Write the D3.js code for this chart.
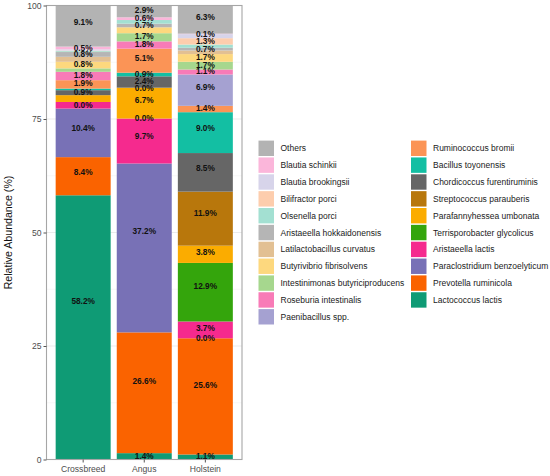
<!DOCTYPE html>
<html>
<head>
<meta charset="utf-8">
<script src="https://cdn.jsdelivr.net/npm/d3@7"></script>
<style>
  body { margin: 0; background: #fff; }
  svg { font-family: "Liberation Sans", Arial, sans-serif; }
</style>
</head>
<body>
<svg id="chart" width="550" height="476"></svg>
<script>
// breeds on the x axis
var breeds = ["Crossbreed", "Angus", "Holstein"];

// species, bottom of the stack first
var species = [
  "Lactococcus lactis", "Prevotella ruminicola", "Paraclostridium benzoelyticum",
  "Aristaeella lactis", "Terrisporobacter glycolicus", "Parafannyhessea umbonata",
  "Streptococcus parauberis", "Chordicoccus furentiruminis", "Bacillus toyonensis",
  "Ruminococcus bromii", "Paenibacillus spp.", "Roseburia intestinalis",
  "Intestinimonas butyriciproducens", "Butyrivibrio fibrisolvens", "Latilactobacillus curvatus",
  "Aristaeella hokkaidonensis", "Olsenella porci", "Bilifractor porci",
  "Blautia brookingsii", "Blautia schinkii", "Others"
];

var colors = [
  "#0f9b75", "#fa6300", "#7871b6",
  "#f52a8e", "#34a50c", "#fbac00",
  "#b8770c", "#666666", "#13bfa3",
  "#fb9456", "#a5a1d1", "#f87bb7",
  "#a6d78e", "#fdd87e", "#e2c093",
  "#b5b5b5", "#a3e0d2", "#fdcdad",
  "#d7d4ea", "#fbb6da", "#b3b3b3"
];

// relative abundance (%) per breed, same order as species
var crossbreed = [58.2, 8.4, 10.7, 1.45, 0, 1.5, 0, 1.1, 0.35, 1.85, 0, 1.85, 0.75, 1.45, 1.1, 1.05, 0.2, 0.1, 0.3, 0.6, 9.05];
var angus      = [1.4, 26.6, 37.2, 9.9, 0, 6.8, 0, 2.5, 0.8, 5.3, 0, 1.6, 1.8, 1.3, 0, 0.8, 0.8, 0, 0, 0.6, 2.6];
var holstein   = [1.1, 25.6, 0, 3.7, 12.9, 3.8, 11.9, 8.5, 9.0, 1.4, 6.9, 1.1, 1.7, 1.7, 0.8, 0.6, 0.7, 1.4, 0.9, 0.1, 6.2];

// printed labels (null = no label)
var crossbreedLabels = [58.2, 8.4, 10.4, 0.0, null, null, null, 0.9, null, 1.9, null, 1.8, null, 0.8, null, 0.8, null, null, null, 0.5, 9.1];
var angusLabels      = [1.4, 26.6, 37.2, 9.7, 0.0, 6.7, 0.0, 2.4, 0.9, 5.1, null, 1.8, 1.7, null, null, 0.7, null, null, null, 0.6, 2.9];
var holsteinLabels   = [1.1, 25.6, 0.0, 3.7, 12.9, 3.8, 11.9, 8.5, 9.0, 1.4, 6.9, 1.1, 1.7, 1.7, null, 0.7, null, 1.3, null, 0.1, 6.3];

var yTicks = [0, 25, 50, 75, 100];

var values = { "Crossbreed": crossbreed, "Angus": angus, "Holstein": holstein };
var labels = { "Crossbreed": crossbreedLabels, "Angus": angusLabels, "Holstein": holsteinLabels };

var table = breeds.map(function(b){
  var row = { breed: b };
  species.forEach(function(s, i){ row[s] = values[b][i]; });
  return row;
});

var svg = d3.select("#chart");

var x = d3.scaleBand().domain(breeds).range([46.5, 242]).paddingInner(0.1).paddingOuter(0.15);
var y = d3.scaleLinear().domain([0, 100]).range([459.5, 5.5]);
var color = d3.scaleOrdinal().domain(species).range(colors);

// grid
var minor = d3.range(12.5, 100, 25);
svg.append("g").selectAll("line")
  .data(minor).enter().append("line")
    .attr("x1", 46.5).attr("x2", 242)
    .attr("y1", function(d){ return y(d) }).attr("y2", function(d){ return y(d) })
    .attr("stroke", "#f2f2f2").attr("stroke-width", 0.6);
svg.append("g").selectAll("line")
  .data(yTicks).enter().append("line")
    .attr("x1", 46.5).attr("x2", 242)
    .attr("y1", function(d){ return y(d) }).attr("y2", function(d){ return y(d) })
    .attr("stroke", "#ebebeb").attr("stroke-width", 1);

// bars
var stacked = d3.stack().keys(species)(table);

svg.append("g").selectAll("g")
  .data(stacked).enter().append("g")
    .attr("fill", function(d){ return color(d.key) })
  .selectAll("rect")
  .data(function(d){ return d }).enter().append("rect")
    .attr("x", function(d){ return x(d.data.breed) })
    .attr("width", x.bandwidth())
    .attr("y", function(d){ return y(d[1]) })
    .attr("height", function(d){ return y(d[0]) - y(d[1]) });

// bar labels, placed at 0.6 of each segment
var labelData = [];
stacked.forEach(function(layer, i){
  layer.forEach(function(d){
    var b = d.data.breed;
    var v = labels[b][i];
    if (v === null) return;
    labelData.push({ breed: b, text: v.toFixed(1) + "%", pos: d[0] + 0.6 * (d[1] - d[0]) });
  });
});

svg.append("g").selectAll("text")
  .data(labelData).enter().append("text")
    .attr("x", function(d){ return x(d.breed) + x.bandwidth() / 2 })
    .attr("y", function(d){ return y(d.pos) })
    .attr("dy", "0.35em")
    .attr("text-anchor", "middle")
    .attr("font-size", "8.3px")
    .attr("font-weight", "bold")
    .attr("fill", "#111")
    .text(function(d){ return d.text });

// panel border
svg.append("rect")
  .attr("x", 46.5).attr("y", 5.5)
  .attr("width", 242 - 46.5).attr("height", 454)
  .attr("fill", "none").attr("stroke", "#a6a6a6").attr("stroke-width", 1.1);

// axes
var yAxis = svg.append("g")
  .attr("transform", "translate(46.5,0)")
  .call(d3.axisLeft(y).tickValues(yTicks).tickSize(3).tickPadding(2));
var xAxis = svg.append("g")
  .attr("transform", "translate(0,459.5)")
  .call(d3.axisBottom(x).tickSize(3).tickPadding(3));

[yAxis, xAxis].forEach(function(a){
  a.select(".domain").remove();
  a.selectAll("line").attr("stroke", "#555");
  a.selectAll("text")
    .attr("font-family", "Liberation Sans, Arial, sans-serif")
    .attr("font-size", "8.6px").attr("fill", "#4d4d4d");
});

svg.append("text")
  .attr("transform", "translate(12," + y(50) + ") rotate(-90)")
  .attr("text-anchor", "middle")
  .attr("font-size", "10.6px")
  .attr("fill", "#111")
  .text("Relative Abundance (%)");

// legend: two columns, top of stack first
var legendItems = species.slice().reverse();
var perCol = Math.ceil(legendItems.length / 2);
var colX = [258.5, 411];
var rowStep = 16.85;
var legendTop = 148.3;

var leg = svg.append("g").attr("class", "legend").selectAll("g")
  .data(legendItems).enter().append("g")
    .attr("transform", function(d, i){
      var c = Math.floor(i / perCol), r = i % perCol;
      return "translate(" + colX[c] + "," + (legendTop + r * rowStep) + ")";
    });
leg.append("rect")
  .attr("x", 0).attr("y", -7.7)
  .attr("width", 15.5).attr("height", 15.4)
  .attr("fill", function(d){ return color(d) });
leg.append("text")
  .attr("x", 22).attr("y", 0).attr("dy", "0.35em")
  .attr("font-size", "8.5px").attr("fill", "#1a1a1a")
  .text(function(d){ return d });
</script>
</body>
</html>
